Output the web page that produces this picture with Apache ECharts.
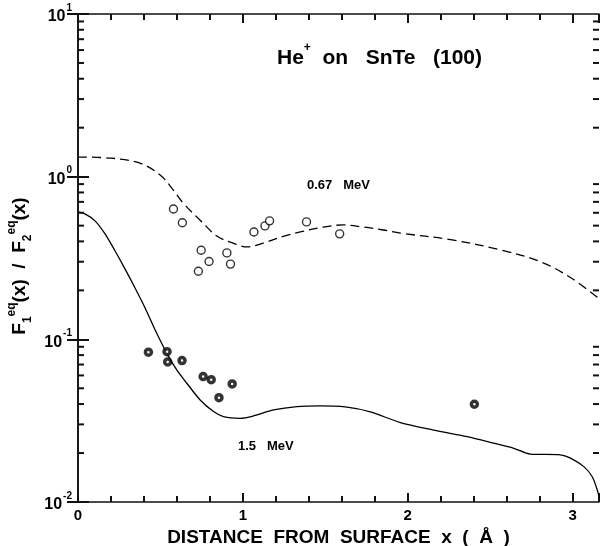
<!DOCTYPE html>
<html><head><meta charset="utf-8">
<script src="https://cdn.jsdelivr.net/npm/echarts@6/dist/echarts.min.js"></script>
<style>html,body{margin:0;padding:0;background:#fff}#c{width:601px;height:546px}</style>
</head><body><div id="c"></div>
<script>
const xMin = 0, xMax = 3.16;
const yMin = 0.01, yMax = 10;
const xTickLabels = ['0', '1', '2', '3'];
const yMinorTicks = [0.02,0.03,0.04,0.05,0.06,0.07,0.08,0.09,
                     0.2,0.3,0.4,0.5,0.6,0.7,0.8,0.9,
                     2,3,4,5,6,7,8,9];

// 0.67 MeV theory (dashed)
const dashX = [0, 0.2, 0.376, 0.50, 0.577, 0.637, 0.741, 0.844, 0.941, 1.026, 1.123, 1.245, 1.348, 1.488, 1.609, 1.730, 1.852, 1.955, 2.259, 2.562, 2.805, 2.987, 3.16];
const dashY = [1.32, 1.30, 1.21, 1.02, 0.83, 0.69, 0.54, 0.43, 0.39, 0.37, 0.39, 0.43, 0.457, 0.49, 0.505, 0.49, 0.47, 0.45, 0.41, 0.355, 0.30, 0.24, 0.178];

// 1.5 MeV theory (solid)
const solidX = [0, 0.042, 0.103, 0.164, 0.225, 0.285, 0.346, 0.407, 0.468, 0.539, 0.599, 0.660, 0.741, 0.822, 0.882, 0.984, 1.064, 1.186, 1.328, 1.469, 1.621, 1.773, 1.955, 2.157, 2.360, 2.521, 2.643, 2.744, 2.926, 2.987, 3.068, 3.119, 3.149, 3.16];
const solidY = [0.607, 0.590, 0.535, 0.445, 0.349, 0.271, 0.207, 0.156, 0.114, 0.082, 0.0648, 0.0537, 0.0424, 0.0360, 0.0335, 0.0327, 0.0338, 0.0368, 0.0386, 0.0390, 0.0384, 0.0358, 0.0308, 0.0277, 0.0252, 0.0230, 0.0214, 0.0197, 0.0195, 0.0186, 0.0165, 0.0143, 0.0119, 0.0108];

// 0.67 MeV experimental (open circles)
const openX = [0.579, 0.633, 0.747, 0.795, 0.730, 0.903, 0.925, 1.067, 1.134, 1.162, 1.386, 1.587];
const openY = [0.633, 0.521, 0.353, 0.301, 0.262, 0.340, 0.290, 0.457, 0.498, 0.535, 0.527, 0.445];

// 1.5 MeV experimental (filled circles)
const fillX = [0.427, 0.540, 0.544, 0.631, 0.759, 0.808, 0.855, 0.935, 2.404];
const fillY = [0.0834, 0.0840, 0.0726, 0.0740, 0.0590, 0.0565, 0.0438, 0.0532, 0.0399];

const zip = (a, b) => a.map((v, i) => [v, b[i]]);
const FONT = 'Liberation Sans';
const INK = '#111';

const chart = echarts.init(document.getElementById('c'), null, {renderer: 'canvas'});
const axisLine = {show: true, lineStyle: {color: INK, width: 1.6}};
const majorX = {show: true, inside: true, length: 9, lineStyle: {color: INK, width: 2}};
const minorX = {show: true, splitNumber: 5, length: 6, lineStyle: {color: INK, width: 2}};
const majorY = {show: true, inside: true, length: 11, lineStyle: {color: INK, width: 2}};

chart.setOption({
  animation: false,
  backgroundColor: '#fff',
  grid: {left: 78, right: 2, top: 14, bottom: 44, containLabel: false, outerBoundsMode: 'none'},
  xAxis: [{
    type: 'value', min: xMin, max: xMax, interval: 1, position: 'bottom',
    axisLine: axisLine, axisTick: majorX, minorTick: minorX,
    splitLine: {show: false}, minorSplitLine: {show: false},
    axisLabel: {show: true, margin: 6, fontFamily: FONT, fontWeight: 'bold', fontSize: 15, color: '#000',
      formatter: v => (Math.abs(v - Math.round(v)) < 1e-6 ? xTickLabels[Math.round(v)] : '')},
    name: 'DISTANCE  FROM  SURFACE  x  (  Å  )',
    nameLocation: 'middle', nameGap: 21,
    nameTextStyle: {fontFamily: FONT, fontWeight: 'bold', fontSize: 19, color: '#000'}
  }, {
    type: 'value', min: xMin, max: xMax, interval: 1, position: 'top',
    axisLine: axisLine, axisTick: majorX, minorTick: minorX,
    splitLine: {show: false}, minorSplitLine: {show: false}, axisLabel: {show: false}
  }],
  yAxis: [{
    type: 'log', logBase: 10, min: yMin, max: yMax, position: 'left',
    axisLine: axisLine, axisTick: majorY,
    splitLine: {show: false},
    axisLabel: {show: true, margin: 6, color: '#000',
      formatter: v => '{b|10}{s|' + Math.round(Math.log10(v)) + '}',
      rich: {
        b: {fontFamily: FONT, fontWeight: 'bold', fontSize: 16, color: '#000', lineHeight: 22, verticalAlign: 'bottom'},
        s: {fontFamily: FONT, fontWeight: 'bold', fontSize: 10, color: '#000', lineHeight: 22, verticalAlign: 'top', padding: [0, 0, 0, 1]}
      }},
    name: '{m|F}{sub|1}{sup|eq}{m|(x)  /  F}{sub|2}{sup|eq}{m|(x)}',
    nameLocation: 'middle', nameGap: 32, nameRotate: 90,
    nameTextStyle: {
      padding: [0, 16, 0, 0],
      rich: {
        m: {fontFamily: FONT, fontWeight: 'bold', fontSize: 19, color: '#000', lineHeight: 28, verticalAlign: 'middle'},
        sub: {fontFamily: FONT, fontWeight: 'bold', fontSize: 12, color: '#000', lineHeight: 28, verticalAlign: 'bottom'},
        sup: {fontFamily: FONT, fontWeight: 'bold', fontSize: 12, color: '#000', lineHeight: 28, verticalAlign: 'top'}
      }
    }
  }, {
    type: 'log', logBase: 10, min: yMin, max: yMax, position: 'right',
    axisLine: axisLine, axisTick: majorY,
    splitLine: {show: false}, axisLabel: {show: false}
  }],
  series: [
    {
      name: '0.67 MeV theory', type: 'line', data: zip(dashX, dashY), xAxisIndex: 0, yAxisIndex: 0,
      showSymbol: false, smooth: 0.35,
      lineStyle: {color: '#000', width: 1.3, type: [9, 5]}, z: 3
    },
    {
      name: '1.5 MeV theory', type: 'line', data: zip(solidX, solidY), xAxisIndex: 0, yAxisIndex: 0,
      showSymbol: false, smooth: 0.3,
      lineStyle: {color: '#000', width: 1.3}, z: 3
    },
    {
      name: '0.67 MeV exp', type: 'scatter', data: zip(openX, openY), xAxisIndex: 0, yAxisIndex: 0,
      symbol: 'circle', symbolSize: 8,
      itemStyle: {color: '#fff', borderColor: '#000', borderWidth: 1.4}, z: 4
    },
    {
      name: '1.5 MeV exp', type: 'scatter', data: zip(fillX, fillY), xAxisIndex: 0, yAxisIndex: 0,
      symbol: 'circle', symbolSize: 6,
      itemStyle: {color: '#fff', borderColor: '#000', borderWidth: 3.5}, z: 4
    },
    {
      name: 'minor y ticks', type: 'custom', coordinateSystem: 'cartesian2d', xAxisIndex: 0, yAxisIndex: 0,
      silent: true, clip: false, z: 10,
      data: yMinorTicks.map(v => [xMin, v]),
      encode: {x: 0, y: 1},
      renderItem: (params, api) => {
        const v = api.value(1);
        const pL = api.coord([xMin, v]);
        const pR = api.coord([xMax, v]);
        return {type: 'group', children: [
          {type: 'line', shape: {x1: pL[0], y1: pL[1], x2: pL[0] + 6, y2: pL[1]}, style: {stroke: INK, lineWidth: 2}},
          {type: 'line', shape: {x1: pR[0], y1: pR[1], x2: pR[0] - 6, y2: pR[1]}, style: {stroke: INK, lineWidth: 2}}
        ]};
      }
    }
  ],
  graphic: [
    {type: 'text', left: 277, top: 42, style: {
      text: '{a|He}{s|+}{a|  on   SnTe   (100)}',
      rich: {
        a: {fontFamily: FONT, fontWeight: 'bold', fontSize: 21, fill: '#000', lineHeight: 27, verticalAlign: 'bottom'},
        s: {fontFamily: FONT, fontWeight: 'bold', fontSize: 12, fill: '#000', lineHeight: 27, verticalAlign: 'top'}
      }}},
    {type: 'text', left: 307, top: 179, style: {text: '0.67   MeV', fontFamily: FONT, fontWeight: 'bold', fontSize: 13, fill: '#000'}},
    {type: 'text', left: 238, top: 440, style: {text: '1.5   MeV', fontFamily: FONT, fontWeight: 'bold', fontSize: 13, fill: '#000'}}
  ]
});
</script>
</body></html>
